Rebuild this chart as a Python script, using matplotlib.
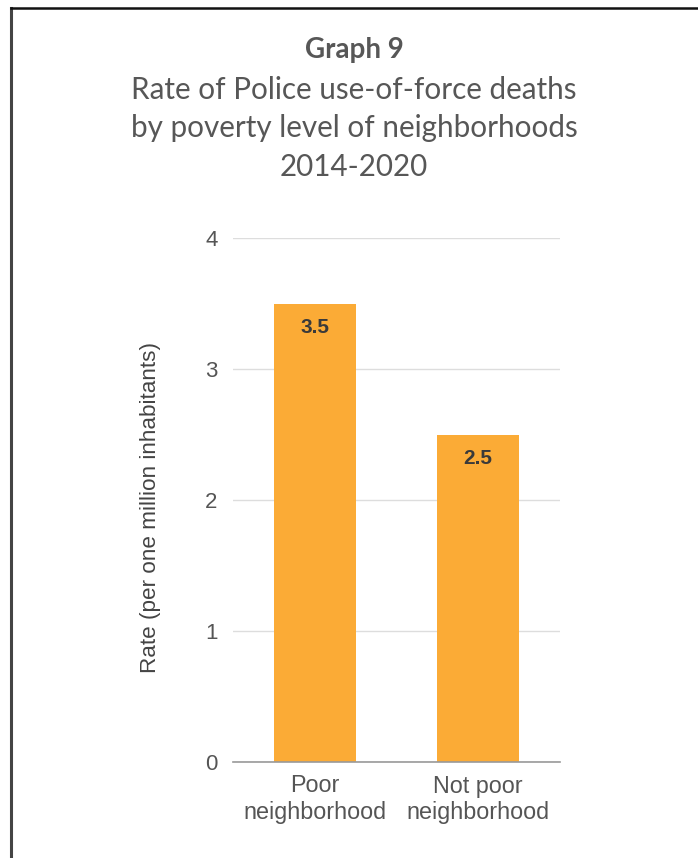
import matplotlib.pyplot as plt
from matplotlib.lines import Line2D

# data
categories = ['Poor\nneighborhood', 'Not poor\nneighborhood']
rates = [3.5, 2.5]
yticks = [0, 1, 2, 3, 4]

title_lines = ['Rate of Police use-of-force deaths',
               'by poverty level of neighborhoods',
               '2014-2020']

W, H = 698, 858
fig = plt.figure(figsize=(W/100., H/100.), dpi=100)
fig.patch.set_facecolor('white')

# frame lines on the top and left edge
fig.add_artist(Line2D([10.5/W, 10.5/W], [0, 1-8./H], color='#444444', lw=2.2,
                      transform=fig.transFigure))
fig.add_artist(Line2D([10.5/W, 1], [1-8./H, 1-8./H], color='#111111', lw=1.8,
                      transform=fig.transFigure))

tfont = ['Liberation Sans Narrow', 'Lato', 'DejaVu Sans']
tcol = '#575757'
tx = 354./W
fig.text(tx, 1-50./H, 'Graph 9', ha='center', va='center', fontsize=20,
         fontweight='bold', color=tcol, family=tfont)
for i, s in enumerate(title_lines):
    fig.text(tx, 1-(90.+38.5*i)/H, s, ha='center', va='center', fontsize=21.3,
             color=tcol, family=tfont)

ax = fig.add_axes([233./W, 96./H, 327./W, 524./H])
x = list(range(len(categories)))
bars = ax.bar(x, rates, width=0.5, color='#FBAB36', zorder=2)
for xi, v in zip(x, rates):
    ax.annotate('%.1f' % v, (xi, v), xytext=(0, -17.5), textcoords='offset points',
                ha='center', va='center', fontsize=15, fontweight='bold',
                color='#3a3a3a', family='Liberation Sans')

ax.set_xlim(-0.5, 1.5)
ax.set_ylim(0, 4)
ax.set_yticks(yticks)
ax.set_yticklabels([str(t) for t in yticks], family='Liberation Sans', fontsize=16,
                   color='#555555')
ax.set_xticks(x)
ax.set_xticklabels(categories, family='Liberation Sans', fontsize=16.8,
                   color='#555555', linespacing=1.2)
ax.tick_params(axis='y', length=0, pad=11)
ax.tick_params(axis='x', length=0, pad=9)
ax.grid(axis='y', color='#dddddd', lw=1, zorder=0)
for sp in ['top', 'right', 'left']:
    ax.spines[sp].set_visible(False)
ax.spines['bottom'].set_color('#999999')
ax.spines['bottom'].set_linewidth(1.2)
ax.spines['bottom'].set_zorder(3)

ax.set_ylabel('Rate (per one million inhabitants)', family='Liberation Sans',
              fontsize=16.2, color='#444444')
ax.yaxis.set_label_coords(-(233.-161.)/327., 0.485)

plt.savefig('out.png', dpi=100)
